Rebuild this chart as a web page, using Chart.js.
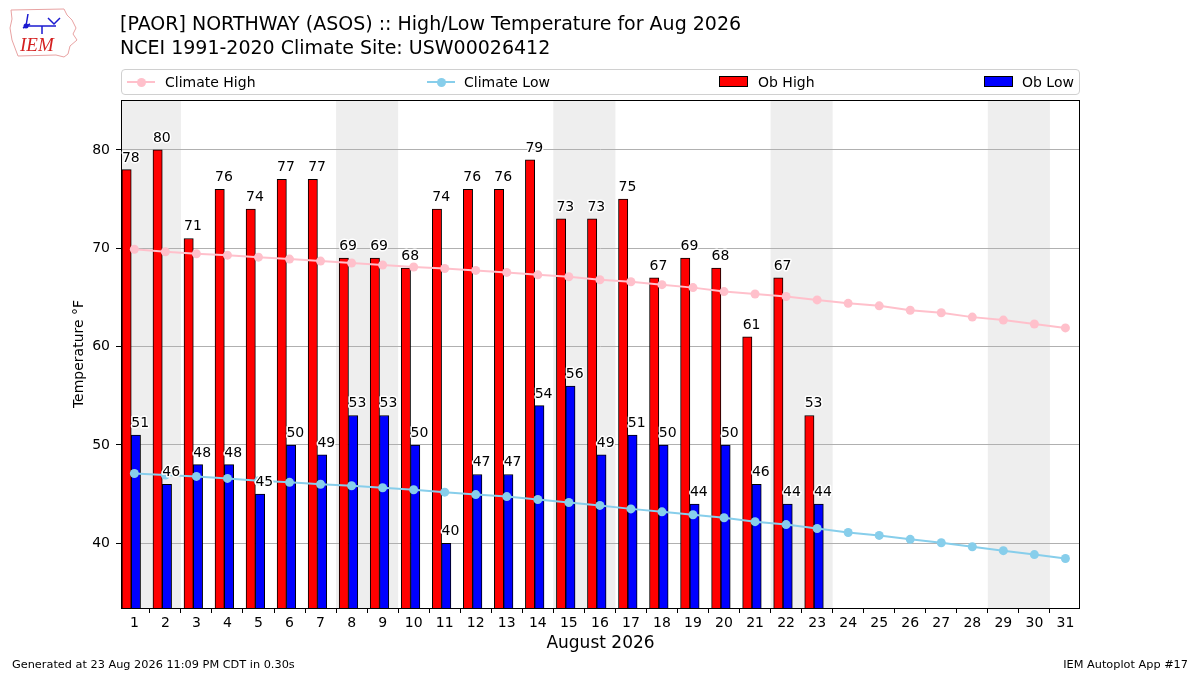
<!DOCTYPE html>
<html>
<head>
<meta charset="utf-8">
<script src="https://cdn.jsdelivr.net/npm/chart.js@4.4.1/dist/chart.umd.min.js"></script>
<style>
html,body{margin:0;padding:0;background:#fff;}
#wrap{position:relative;width:1200px;height:675px;overflow:hidden;font-family:"DejaVu Sans",sans-serif;color:#000;}
#c{position:absolute;left:0;top:0;}
.title{position:absolute;left:120px;top:11px;font-size:19px;line-height:24px;white-space:nowrap;}
#legendBox{position:absolute;left:121px;top:69px;width:957px;height:24px;border:1px solid #d0d0d0;border-radius:4px;background:rgba(255,255,255,0.8);}
.lt{position:absolute;top:69px;height:26px;line-height:26px;font-size:14px;white-space:nowrap;}
.foot{position:absolute;top:657px;font-size:11.3px;line-height:16px;white-space:nowrap;}
</style>
</head>
<body>
<div id="wrap">
  <canvas id="c" width="1200" height="675"></canvas>
  <svg style="position:absolute;left:6px;top:4px;" width="80" height="56" viewBox="0 0 80 56">
    <path d="M5 6 L58 5 L61 11 L66 16 L70 24 L67 30 L71 36 L64 42 L62 50 L58 53 L50 51 L12 52 L9 44 L6 36 L4 24 L6 15 Z" fill="none" stroke="#e8a2a2" stroke-width="1"/>
    <g stroke="#1a1ad0" stroke-width="1.5" fill="none">
      <path d="M22 10 L20 22"/>
      <path d="M20 22 L50 22"/>
      <path d="M42 14 L48 20 L54 14"/>
      <path d="M36 22 L36 30"/>
      <path d="M17 24 L24 20"/>
    </g>
    <circle cx="20" cy="22" r="2.5" fill="#1a1ad0"/>
    <text x="14" y="47" font-family="Liberation Serif, serif" font-style="italic" font-size="19" fill="#d42020">IEM</text>
  </svg>
  <div class="title">[PAOR] NORTHWAY (ASOS) :: High/Low Temperature for Aug 2026<br>NCEI 1991-2020 Climate Site: USW00026412</div>
  <div id="legendBox"></div>
  <div id="legendItems"></div>
  <div class="foot" style="left:12px;">Generated at 23 Aug 2026 11:09 PM CDT in 0.30s</div>
  <div class="foot" style="right:12px;">IEM Autoplot App #17</div>
</div>
<script>
// ---- data ----
const days = [1,2,3,4,5,6,7,8,9,10,11,12,13,14,15,16,17,18,19,20,21,22,23,24,25,26,27,28,29,30,31];
const obHigh = [78,80,71,76,74,77,77,69,69,68,74,76,76,79,73,73,75,67,69,68,61,67,53];
const obLow  = [51,46,48,48,45,50,49,53,53,50,40,47,47,54,56,49,51,50,44,50,46,44,44];
const climHigh = [69.9,69.65,69.45,69.3,69.1,68.9,68.7,68.5,68.3,68.1,67.95,67.75,67.55,67.3,67.1,66.8,66.6,66.3,66.0,65.6,65.35,65.1,64.75,64.4,64.15,63.7,63.45,63.0,62.7,62.3,61.9];
const climLow  = [47.1,46.95,46.8,46.6,46.35,46.2,46.0,45.85,45.65,45.45,45.2,44.95,44.75,44.45,44.15,43.85,43.5,43.2,42.9,42.6,42.2,41.9,41.5,41.1,40.8,40.4,40.05,39.65,39.25,38.85,38.45];
const weekendDays = [1,2,8,9,15,16,22,23,29,30];
const yTicks = [40,50,60,70,80];
const seriesNames = ['Climate High','Climate Low','Ob High','Ob Low'];
const xTitle = 'August 2026';
const yTitle = 'Temperature °F';

// ---- styling / layout ----
const COL_CH = '#FFC0CB', COL_CL = '#87CEEB', COL_OH = '#FF0000', COL_OL = '#0000FF';
const X_MIN = 0.57, X_MAX = 31.47, Y_MIN = 33.42, Y_MAX = 85.08;
const PAD = {left:71, right:120, top:100, bottom:20};
const Y_AXIS_W = 50, X_AXIS_H = 47;
const AREA_W = 1200 - PAD.left - PAD.right - Y_AXIS_W;
const BAR_W = 0.3, HIGH_OFF = -0.25, LOW_OFF = 0.05;
const barPx = BAR_W * AREA_W / (X_MAX - X_MIN);
const FONT = '"DejaVu Sans", sans-serif';
const TICK_SIZE = 14;

const obDays = days.slice(0, obHigh.length);

// merge consecutive weekend days into spans
const weekendSpans = [];
weekendDays.forEach(d => {
  const last = weekendSpans[weekendSpans.length - 1];
  if (last && last[1] === d - 1) last[1] = d; else weekendSpans.push([d, d]);
});

const shadePlugin = {
  id: 'shade',
  beforeDraw(chart) {
    const {ctx, chartArea: a, scales: {x}} = chart;
    ctx.save();
    ctx.beginPath(); ctx.rect(a.left, a.top, a.width, a.height); ctx.clip();
    ctx.fillStyle = '#eeeeee';
    weekendSpans.forEach(([d0, d1]) => {
      const x0 = x.getPixelForValue(d0 - 0.5), x1 = x.getPixelForValue(d1 + 0.5);
      ctx.fillRect(x0, a.top, x1 - x0, a.height);
    });
    ctx.restore();
  }
};

const framePlugin = {
  id: 'frameLabels',
  afterDatasetsDraw(chart) {
    const {ctx, chartArea: a, scales: {x, y}} = chart;
    ctx.save();
    ctx.strokeStyle = '#000'; ctx.lineWidth = 1;
    ctx.strokeRect(Math.round(a.left) + 0.5, Math.round(a.top) + 0.5, Math.round(a.width) - 1, Math.round(a.height));
    ctx.font = TICK_SIZE + 'px ' + FONT;
    ctx.textAlign = 'left'; ctx.textBaseline = 'alphabetic';
    ctx.lineJoin = 'round';
    const draw = (txt, px, py) => {
      ctx.strokeStyle = '#fff'; ctx.lineWidth = 3; ctx.strokeText(txt, px, py);
      ctx.fillStyle = '#000'; ctx.fillText(txt, px, py);
    };
    obDays.forEach((d, i) => {
      draw(String(obHigh[i]), x.getPixelForValue(d - 0.4), y.getPixelForValue(obHigh[i]) - 8);
      draw(String(obLow[i]), x.getPixelForValue(d - 0.1), y.getPixelForValue(obLow[i]) - 8);
    });
    ctx.restore();
  }
};

new Chart(document.getElementById('c'), {
  type: 'bar',
  data: {
    datasets: [
      {type:'line', label: seriesNames[0], data: days.map((d,i)=>({x:d, y:climHigh[i]})),
       borderColor: COL_CH, backgroundColor: COL_CH, pointBackgroundColor: COL_CH, borderWidth: 2,
       pointRadius: 4.5, pointBorderWidth: 0, order: 0},
      {type:'line', label: seriesNames[1], data: days.map((d,i)=>({x:d, y:climLow[i]})),
       borderColor: COL_CL, backgroundColor: COL_CL, pointBackgroundColor: COL_CL, borderWidth: 2,
       pointRadius: 4.5, pointBorderWidth: 0, order: 0},
      {type:'bar', label: seriesNames[2], data: obDays.map((d,i)=>({x:d + HIGH_OFF, y:obHigh[i]})),
       backgroundColor: COL_OH, borderColor: '#000', borderWidth: 1, grouped: false, barThickness: barPx, order: 1},
      {type:'bar', label: seriesNames[3], data: obDays.map((d,i)=>({x:d + LOW_OFF, y:obLow[i]})),
       backgroundColor: COL_OL, borderColor: '#000', borderWidth: 1, grouped: false, barThickness: barPx, order: 1}
    ]
  },
  options: {
    responsive: false, animation: false, devicePixelRatio: 1,
    layout: {padding: PAD},
    plugins: {legend: {display: false}, tooltip: {enabled: false}},
    scales: {
      x: {
        type: 'linear', min: X_MIN, max: X_MAX, offset: false,
        grid: {drawOnChartArea: false, drawTicks: true, tickLength: 5, tickColor: '#000'},
        border: {display: false},
        ticks: {font: {family: FONT, size: TICK_SIZE}, color: '#000', padding: 2, maxRotation: 0,
                callback: v => String(v)},
        afterBuildTicks: s => { s.ticks = days.map(d => ({value: d})); },
        afterFit: s => { s.height = X_AXIS_H; },
        title: {display: true, text: xTitle, font: {family: FONT, size: 17}, color: '#000', padding: {top: 0, bottom: 1}}
      },
      y: {
        type: 'linear', min: Y_MIN, max: Y_MAX,
        grid: {color: '#b0b0b0', lineWidth: 1, drawTicks: true, tickLength: 5, tickColor: '#000'},
        border: {display: false},
        ticks: {font: {family: FONT, size: TICK_SIZE}, color: '#000', padding: 6, callback: v => String(v)},
        afterBuildTicks: s => { s.ticks = yTicks.map(v => ({value: v})); },
        afterFit: s => { s.width = Y_AXIS_W; },
        title: {display: true, text: yTitle, font: {family: FONT, size: TICK_SIZE}, color: '#000', padding: {top: 0, bottom: 0}}
      }
    }
  },
  plugins: [shadePlugin, framePlugin]
});

// ---- legend (HTML) ----
const legendSpec = [
  {name: seriesNames[0], kind: 'line', color: COL_CH, left: 127, text: 165},
  {name: seriesNames[1], kind: 'line', color: COL_CL, left: 427, text: 464},
  {name: seriesNames[2], kind: 'rect', color: COL_OH, left: 719, text: 758},
  {name: seriesNames[3], kind: 'rect', color: COL_OL, left: 984, text: 1022}
];
const li = document.getElementById('legendItems');
legendSpec.forEach(s => {
  if (s.kind === 'line') {
    const ln = document.createElement('div');
    ln.style.cssText = `position:absolute;left:${s.left}px;top:81px;width:28px;height:2px;background:${s.color};`;
    const dot = document.createElement('div');
    dot.style.cssText = `position:absolute;left:${s.left + 9.5}px;top:77.5px;width:9px;height:9px;border-radius:50%;background:${s.color};`;
    li.appendChild(ln); li.appendChild(dot);
  } else {
    const r = document.createElement('div');
    r.style.cssText = `position:absolute;left:${s.left}px;top:76px;width:29px;height:11px;box-sizing:border-box;border:1px solid #000;background:${s.color};`;
    li.appendChild(r);
  }
  const t = document.createElement('div');
  t.className = 'lt'; t.style.left = s.text + 'px'; t.textContent = s.name;
  li.appendChild(t);
});
</script>
</body>
</html>
